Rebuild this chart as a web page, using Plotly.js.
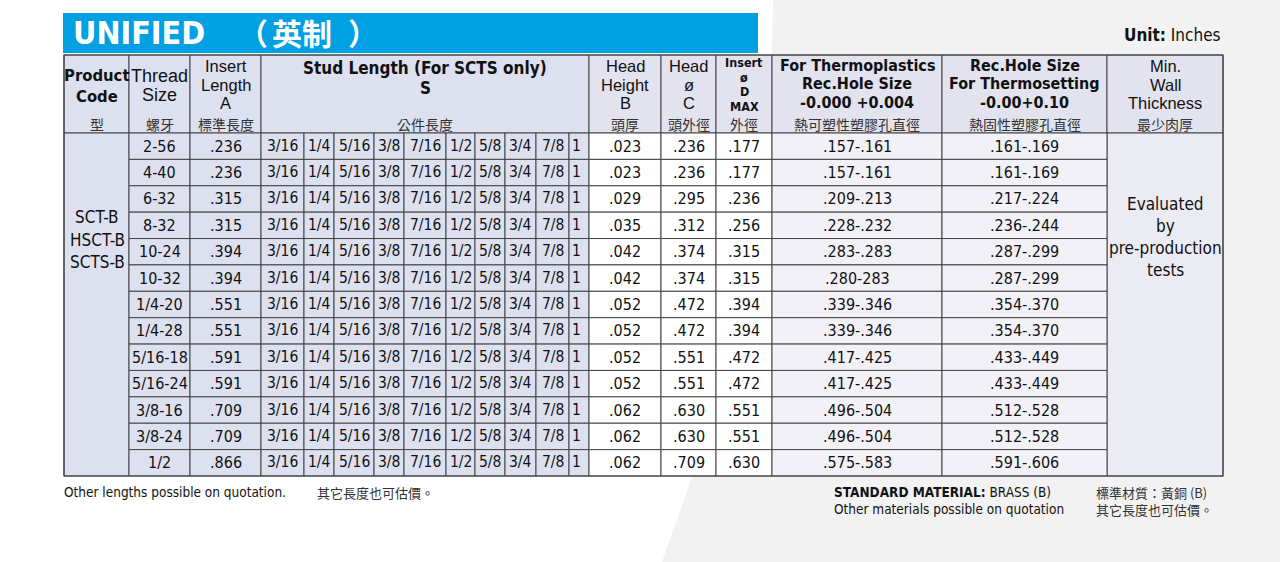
<!DOCTYPE html>
<html>
<head>
<meta charset="utf-8">
<script src="https://cdn.plot.ly/plotly-3.0.1.min.js"></script>
<style>
html,body{margin:0;padding:0;background:#fff;}
#chart{width:1280px;height:562px;}
</style>
</head>
<body>
<div id="chart"></div>
<script>
// ---------------- DATA ----------------
const titleText = "UNIFIED";
const titleCJK = ["（", "英制", "）"];
const unitLabel = "Unit:";
const unitValue = "Inches";
const productCodes = ["SCT-B", "HSCT-B", "SCTS-B"];
const threadSizes = ["2-56","4-40","6-32","8-32","10-24","10-32","1/4-20","1/4-28","5/16-18","5/16-24","3/8-16","3/8-24","1/2"];
const insertLength = [".236",".236",".315",".315",".394",".394",".551",".551",".591",".591",".709",".709",".866"];
const studLengths = ["3/16","1/4","5/16","3/8","7/16","1/2","5/8","3/4","7/8","1"];
const headHeight = [".023",".023",".029",".035",".042",".042",".052",".052",".052",".052",".062",".062",".062"];
const headDia = [".236",".236",".295",".312",".374",".374",".472",".472",".551",".551",".630",".630",".709"];
const insertDiaMax = [".177",".177",".236",".256",".315",".315",".394",".394",".472",".472",".551",".551",".630"];
const thermoplasticHole = [".157-.161",".157-.161",".209-.213",".228-.232",".283-.283",".280-283",".339-.346",".339-.346",".417-.425",".417-.425",".496-.504",".496-.504",".575-.583"];
const thermosetHole = [".161-.169",".161-.169",".217-.224",".236-.244",".287-.299",".287-.299",".354-.370",".354-.370",".433-.449",".433-.449",".512-.528",".512-.528",".591-.606"];
const minWallText = ["Evaluated", "by", "pre-production", "tests"];
// header texts (lines) and Chinese sub-labels
const headerLines = [
  ["<b>Product</b>", "<b>Code</b>"],
  ["Thread", "Size"],
  ["Insert", "Length", "A"],
  ["<b>Stud Length (For SCTS only)</b>", "<b>S</b>"],
  ["Head", "Height", "B"],
  ["Head", "ø", "C"],
  ["<b>Insert</b>", "<b>ø</b>", "<b>D</b>", "<b>MAX</b>"],
  ["<b>For Thermoplastics</b>", "<b>Rec.Hole Size</b>", "<b>-0.000 +0.004</b>"],
  ["<b>Rec.Hole Size</b>", "<b>For Thermosetting</b>", "<b>-0.00+0.10</b>"],
  ["Min.", "Wall", "Thickness"]
];
const headerCJK = ["型","螺牙","標準長度","公件長度","頭厚","頭外徑","外徑","熱可塑性塑膠孔直徑","熱固性塑膠孔直徑","最少肉厚"];
const footLeft = "Other lengths possible on quotation.";
const footLeftCJK = "其它長度也可估價。";
const footMat1 = "<b>STANDARD MATERIAL:</b> BRASS (B)";
const footMat2 = "Other materials possible on quotation";
const footMatCJK1 = "標準材質：黃銅 (B)";
const footMatCJK2 = "其它長度也可估價。";

// ---------------- LAYOUT / STYLE ----------------
const colEdges = [64,129,190,261,589,661,716,772,942,1107,1223];
const studEdges = [261,304,334,374,404,446,475,505,536,569,589];
const headTop = 55, dataTop = 133, dataBot = 476;
const nRows = threadSizes.length;
const rowH = (dataBot - dataTop) / nRows;
const LAV = "#dde0ef", LAVH = "#e2e3ef", LAVL = "#f1f1f7", MW = "#ebebf3";
const LINE = "#444444";
const SANS = "DejaVu Sans Condensed, DejaVu Sans, sans-serif";
const ARIAL = "Liberation Sans, Arial, sans-serif";
const CJK = "Noto Sans CJK TC, sans-serif";
const TXT = "#111";

const shapes = [];
const annotations = [];
function rect(x0,x1,y0,y1,fill,lw){
  shapes.push({type:"rect",xref:"x",yref:"y",x0:x0,x1:x1,y0:y0,y1:y1,fillcolor:fill,
    line:{color:LINE,width:(lw===undefined?1:lw)},layer:"above"});
}
function ann(x,y,text,size,family,color,xanchor){
  annotations.push({x:x,y:y,xref:"x",yref:"y",text:text,showarrow:false,
    xanchor:xanchor||"center",yanchor:"middle",borderpad:0,
    font:{size:size,family:family||SANS,color:color||TXT}});
}

// background grey wedge
shapes.push({type:"path",xref:"x",yref:"y",path:"M 773 0 L 1280 0 L 1280 562 L 662 562 L 692 477 L 772 55 Z",
  fillcolor:"#f2f2f2",line:{width:0},layer:"below"});
// title bar
shapes.push({type:"rect",xref:"x",yref:"y",x0:63,x1:758,y0:13,y1:53,fillcolor:"#00a0e3",line:{width:0},layer:"below"});
ann(72,33,"<b>"+titleText+"</b>",32,"DejaVu Sans Condensed, sans-serif","#ffffff","left");
ann(237,32,"<b>"+titleCJK[0]+"</b>",30,CJK,"#ffffff","left");
ann(302,32,"<b>"+titleCJK[1]+"</b>",30,CJK,"#ffffff","center");
ann(347,32,"<b>"+titleCJK[2]+"</b>",30,CJK,"#ffffff","left");
ann(1222,35,"<b>"+unitLabel+"</b> "+unitValue,17,SANS,"#111","right");

// header cells
const headFill = [LAV,LAV,LAV,LAV,LAVH,LAVH,LAVH,LAVH,LAVH,LAVH];
for(let c=0;c<colEdges.length-1;c++){
  rect(colEdges[c],colEdges[c+1],headTop,dataTop,headFill[c]);
}
// header text line positions (y centres) and sizes
const headerY = [
  [75,96],[76,95],[66,84.5,103],[68,88],[66,84.5,103],[66,84.5,103],[62.5,77,91.5,106],[65,83.6,102.2],[65,83.6,102.2],[66,84.5,103]
];
const headerFont = [
  [16.5,SANS],[18,ARIAL],[16.5,ARIAL],[17,SANS],[16.5,ARIAL],[16.5,ARIAL],[12.5,SANS],[16,SANS],[16,SANS],[16.5,ARIAL]
];
for(let c=0;c<headerLines.length;c++){
  const cx = (colEdges[c]+colEdges[c+1])/2;
  headerLines[c].forEach((t,i)=>ann(cx,headerY[c][i],t,headerFont[c][0],headerFont[c][1]));
  ann(cx,123.5,headerCJK[c],14,CJK,"#333");
}

// data cells
rect(colEdges[0],colEdges[1],dataTop,dataBot,LAV);
rect(colEdges[9],colEdges[10],dataTop,dataBot,MW);
for(let r=0;r<nRows;r++){
  const y0 = dataTop + r*rowH, y1 = y0 + rowH, cy = (y0+y1)/2;
  rect(colEdges[1],colEdges[2],y0,y1,LAV);
  ann((colEdges[1]+colEdges[2])/2,cy,threadSizes[r],16);
  rect(colEdges[2],colEdges[3],y0,y1,LAV);
  ann((colEdges[2]+colEdges[3])/2,cy,insertLength[r],16);
  for(let s=0;s<studLengths.length;s++){
    rect(studEdges[s],studEdges[s+1],y0,y1,LAV);
    const sx = s===studLengths.length-1 ? studEdges[s]+7 : (studEdges[s]+studEdges[s+1])/2;
    ann(sx,cy-0.5,studLengths[s],15.5, SANS, TXT);
  }
  rect(colEdges[4],colEdges[5],y0,y1,"#ffffff");
  ann((colEdges[4]+colEdges[5])/2,cy,headHeight[r],16);
  rect(colEdges[5],colEdges[6],y0,y1,"#ffffff");
  ann((colEdges[5]+colEdges[6])/2,cy,headDia[r],16);
  rect(colEdges[6],colEdges[7],y0,y1,"#ffffff");
  ann((colEdges[6]+colEdges[7])/2,cy,insertDiaMax[r],16);
  rect(colEdges[7],colEdges[8],y0,y1,LAVL);
  ann((colEdges[7]+colEdges[8])/2,cy,thermoplasticHole[r],16);
  rect(colEdges[8],colEdges[9],y0,y1,LAVL);
  ann((colEdges[8]+colEdges[9])/2,cy,thermosetHole[r],16);
}
// merged product code text
[217,240,262].forEach((y,i)=>ann(97,y,productCodes[i],17));
// merged min wall text
[204,226,248,270].forEach((y,i)=>ann(1165,y,minWallText[i],17));
// outer border
shapes.push({type:"rect",xref:"x",yref:"y",x0:colEdges[0],x1:colEdges[10],y0:headTop,y1:dataBot,
  line:{color:LINE,width:1.2},fillcolor:"rgba(0,0,0,0)",layer:"above"});

// footer
ann(63,492,footLeft,13.5,SANS,"#111","left");
ann(316,492,footLeftCJK,13,CJK,"#333","left");
ann(833,492,footMat1,13.5,SANS,"#111","left");
ann(833,509,footMat2,13.5,SANS,"#111","left");
ann(1095,492,footMatCJK1,13,CJK,"#333","left");
ann(1095,509,footMatCJK2,13,CJK,"#333","left");

const layout = {
  width:1280,height:562,margin:{l:0,r:0,t:0,b:0,pad:0},
  paper_bgcolor:"#ffffff",plot_bgcolor:"rgba(0,0,0,0)",
  xaxis:{range:[0,1280],showgrid:false,zeroline:false,showticklabels:false,showline:false,ticks:"",fixedrange:true},
  yaxis:{range:[562,0],showgrid:false,zeroline:false,showticklabels:false,showline:false,ticks:"",fixedrange:true},
  showlegend:false,shapes:shapes,annotations:annotations
};
Plotly.newPlot("chart",[{type:"scatter",x:[],y:[],mode:"markers",hoverinfo:"skip"}],layout,{staticPlot:true,displayModeBar:false});
</script>
</body>
</html>
